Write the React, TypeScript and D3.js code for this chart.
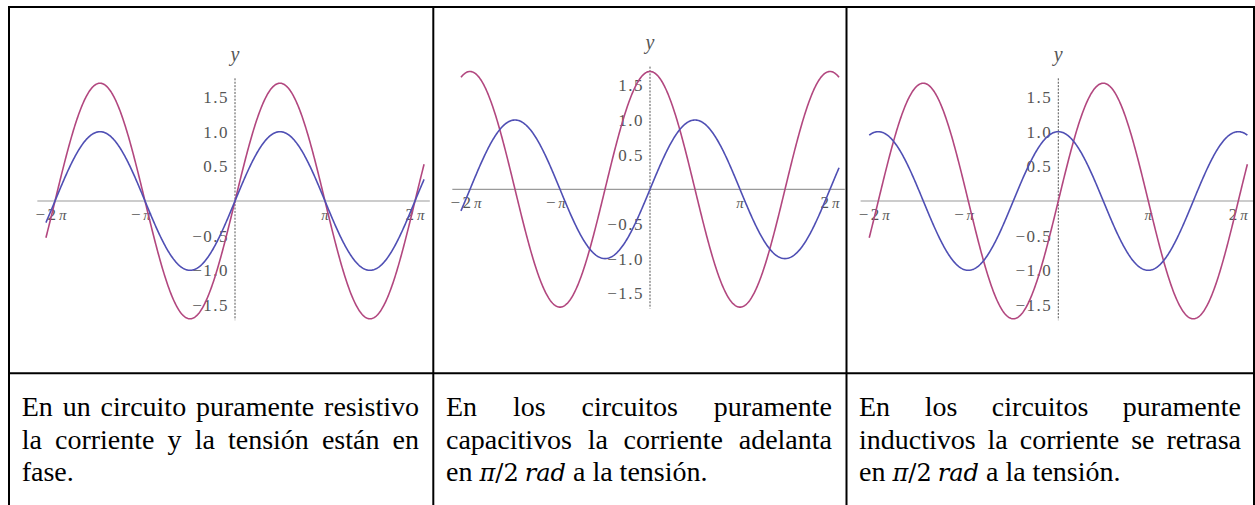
import React, { useMemo } from "react";
import * as d3 from "d3";

// ---- data ---------------------------------------------------------------
// Wave parameters for the three circuit types (current in blue, voltage in red)
const circuitNames = ["resistivo", "capacitivo", "inductivo"];
const currentAmplitude = [1.0, 1.0, 1.0];
const voltageAmplitude = [1.7, 1.7, 1.7];
// phase offsets (rad) added to sin(x)
const currentPhase = [0, 0, Math.PI / 2];
const voltagePhase = [0, Math.PI / 2, 0];
const xDomain = [-6.6, 6.6];
const xAxisExtent = [-6.9, 6.8];
const yAxisExtent = [-1.72, 1.77];

const xTickValues = [-2 * Math.PI, -Math.PI, Math.PI, 2 * Math.PI];
const xTickSigns = ["−", "−", "", ""];
const xTickBodies = ["2 π", "π", "π", "2 π"];
const yTickValues = [-1.5, -1.0, -0.5, 0.5, 1.0, 1.5];
const yTickLabels = ["−1.5", "−1.0", "−0.5", "0.5", "1.0", "1.5"];

// Caption lines, one list per column
const captionCol1 = [
  "En un circuito puramente resistivo",
  "la corriente y la tensión están en",
  "fase.",
];
const captionCol2 = [
  "En los circuitos puramente",
  "capacitivos la corriente adelanta",
  "en|π/2 rad|a la tensión.",
];
const captionCol3 = [
  "En los circuitos puramente",
  "inductivos la corriente se retrasa",
  "en|π/2 rad|a la tensión.",
];
const captions = [captionCol1, captionCol2, captionCol3];

// ---- layout -------------------------------------------------------------
const W = 1255;
const H = 505;
const PI_PX = 90; // pixels per π radians
const UNIT_PX = 69.3; // pixels per y unit
const origins = [
  [235, 201],
  [650, 189.3],
  [1058.3, 201],
];
const colText = [
  [21.7, 419],
  [446, 832],
  [859, 1241],
];
const baselines = [416, 448.7, 481.4];
const CAPTION_SIZE = 28;
const SERIF = "'Liberation Serif', 'Times New Roman', serif";

const BLUE = "#4f4fb4";
const RED = "#b2477f";
const LABEL = "#555";

function measure(text: string, font: string): number {
  const c = document.createElement("canvas").getContext("2d");
  if (!c) return text.length * 10;
  c.font = font;
  return c.measureText(text).width;
}

function Panel({ idx }: { idx: number }) {
  const [ox, oy] = origins[idx];
  const x = d3.scaleLinear().domain([-Math.PI, Math.PI]).range([ox - PI_PX, ox + PI_PX]);
  const y = d3.scaleLinear().domain([-1, 1]).range([oy + UNIT_PX, oy - UNIT_PX]);
  const samples = d3.range(xDomain[0], xDomain[1] + 1e-9, 0.02);
  const line = d3
    .line<number>()
    .x((t) => x(t))
    .curve(d3.curveLinear);
  const current = line.y((t) => y(currentAmplitude[idx] * Math.sin(t + currentPhase[idx])))(samples) || "";
  const voltage = line.y((t) => y(voltageAmplitude[idx] * Math.sin(t + voltagePhase[idx])))(samples) || "";

  return (
    <g className={`panel-${circuitNames[idx]}`}>
      {/* horizontal axis */}
      <line x1={x(xAxisExtent[0])} x2={x(xAxisExtent[1])} y1={y(0)} y2={y(0)} stroke="#9a9a9a" strokeWidth={1.2} />
      {/* vertical axis */}
      <line
        x1={x(0)}
        x2={x(0)}
        y1={y(yAxisExtent[1])}
        y2={y(yAxisExtent[0])}
        stroke="#555"
        strokeWidth={1}
        strokeDasharray="2,1.4"
      />
      {/* y tick labels */}
      {yTickValues.map((v, i) => (
        <text
          key={`y${i}`}
          x={x(0) - 6}
          y={y(v)}
          dy="0.35em"
          textAnchor="end"
          fontFamily={SERIF}
          fontSize={17}
          letterSpacing={1.5}
          fill={LABEL}
        >
          {yTickLabels[i]}
        </text>
      ))}
      {/* x tick labels */}
      {xTickValues.map((v, i) => {
        const neg = xTickSigns[i] !== "";
        const bx = x(v) + (neg ? 2 : 0);
        const bodyHalf = xTickBodies[i].length > 1 ? 10 : 4.5;
        return (
          <g key={`x${i}`} fontFamily={SERIF} fill={LABEL}>
            {neg && (
              <text x={bx - bodyHalf - 2} y={y(0) + 19} textAnchor="end" fontSize={17}>
                {xTickSigns[i]}
              </text>
            )}
            <text x={bx} y={y(0) + 19} textAnchor="middle" fontSize={17}>
              {xTickBodies[i].split(" ").map((p, k) =>
                p === "π" ? (
                  <tspan key={k} fontSize={15} fontStyle="italic" dx={k > 0 ? 3 : 0}>
                    π
                  </tspan>
                ) : (
                  <tspan key={k}>{p}</tspan>
                )
              )}
            </text>
          </g>
        );
      })}
      {/* axis title */}
      <text x={x(0)} y={y(0) - 140} textAnchor="middle" fontFamily={SERIF} fontStyle="italic" fontSize={20} fill={LABEL}>
        y
      </text>
      <path d={voltage} fill="none" stroke={RED} strokeWidth={1.6} strokeLinejoin="round" />
      <path d={current} fill="none" stroke={BLUE} strokeWidth={1.6} strokeLinejoin="round" />
    </g>
  );
}

function Caption({ idx }: { idx: number }) {
  const [x0, x1] = colText[idx];
  const font = `${CAPTION_SIZE}px ${SERIF}`;
  const lines = captions[idx];
  const rendered = useMemo(
    () =>
      lines.map((ln, li) => {
        const last = li === lines.length - 1;
        if (ln.includes("|")) {
          const [pre, math, post] = ln.split("|");
          const [piPart, radPart] = math.split(" ");
          return (
            <text key={li} x={x0} y={baselines[li]} fontFamily={SERIF} fontSize={CAPTION_SIZE} fill="#000">
              <tspan>{pre} </tspan>
              <tspan fontFamily="'DejaVu Serif', serif" fontStyle="italic" fontSize={CAPTION_SIZE * 0.86}>
                {piPart[0]}
              </tspan>
              <tspan fontFamily="'DejaVu Serif', serif" fontSize={CAPTION_SIZE * 0.86}>
                {piPart.slice(1)}
              </tspan>
              <tspan fontFamily="'DejaVu Serif', serif" fontStyle="italic" fontSize={CAPTION_SIZE * 0.86} dx={6}>
                {radPart}
              </tspan>
              <tspan> {post}</tspan>
            </text>
          );
        }
        const words = ln.split(" ");
        const widths = words.map((w) => measure(w, font));
        const total = d3.sum(widths);
        const space = measure(" ", font);
        const gap = last || words.length < 2 ? space : (x1 - x0 - total) / (words.length - 1);
        let cx = x0;
        const xs = widths.map((w) => {
          const p = cx;
          cx += w + gap;
          return p;
        });
        return (
          <text key={li} y={baselines[li]} fontFamily={SERIF} fontSize={CAPTION_SIZE} fill="#000">
            {words.map((w, wi) => (
              <tspan key={wi} x={xs[wi]}>
                {w}
              </tspan>
            ))}
          </text>
        );
      }),
    [idx]
  );
  return <g>{rendered}</g>;
}

export default function App() {
  const black = "#000";
  return (
    <svg width={W} height={H} style={{ position: "absolute", left: 0, top: 0, background: "#fff" }}>
      <rect x={0} y={0} width={W} height={H} fill="#fff" />
      {[0, 1, 2].map((i) => (
        <Panel key={i} idx={i} />
      ))}
      {[0, 1, 2].map((i) => (
        <Caption key={i} idx={i} />
      ))}
      {/* table rules */}
      <line x1={8} x2={W} y1={7} y2={7} stroke={black} strokeWidth={2} />
      <line x1={8} x2={W} y1={373.3} y2={373.3} stroke={black} strokeWidth={2} />
      <line x1={9} x2={9} y1={6} y2={H} stroke={black} strokeWidth={2} />
      <line x1={433.3} x2={433.3} y1={6} y2={H} stroke={black} strokeWidth={2} />
      <line x1={846.5} x2={846.5} y1={6} y2={H} stroke={black} strokeWidth={2} />
      <line x1={1254} x2={1254} y1={6} y2={H} stroke={black} strokeWidth={2} />
    </svg>
  );
}
